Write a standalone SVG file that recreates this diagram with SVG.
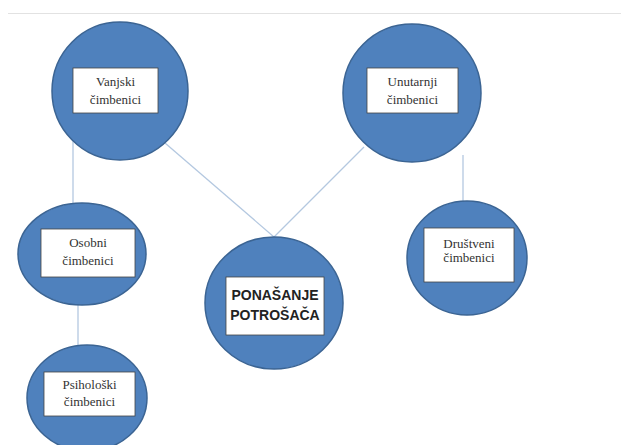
<svg xmlns="http://www.w3.org/2000/svg" width="621" height="445" viewBox="0 0 621 445">
<style>
.c{fill:#4f81bd;stroke:#3b6493;stroke-width:1.5}
.b{fill:#fff;stroke:#444;stroke-width:0.8}
.t{font-family:"Liberation Serif","Times New Roman",serif;font-size:13px;fill:#333;text-anchor:middle}
.tb{font-family:"Liberation Sans",Arial,sans-serif;font-size:14px;font-weight:bold;fill:#222;text-anchor:middle}
.l{stroke:#b4c8e0;stroke-width:1.3;fill:none}
</style>
<rect width="621" height="445" fill="#fff"/>
<line x1="8" y1="13.5" x2="621" y2="13.5" stroke="#e2e2e2" stroke-width="1"/>
<g id="connectors">
<line class="l" x1="73" y1="140" x2="73" y2="205"/>
<line class="l" x1="165" y1="143" x2="274" y2="237"/>
<line class="l" x1="364" y1="147" x2="274" y2="237"/>
<line class="l" x1="463" y1="155" x2="463" y2="203"/>
<line class="l" x1="78" y1="300" x2="78" y2="347"/>
</g>
<g id="vanjski">
<ellipse class="c" cx="120" cy="91" rx="68" ry="69"/>
<rect class="b" x="73" y="68" width="85" height="45"/>
<text class="t" x="115.5" y="86">Vanjski</text>
<text class="t" x="115.5" y="104">čimbenici</text>
</g>
<g id="unutarnji">
<ellipse class="c" cx="412" cy="93" rx="69" ry="69"/>
<rect class="b" x="367" y="68" width="91" height="45"/>
<text class="t" x="412.5" y="86">Unutarnji</text>
<text class="t" x="412.5" y="104">čimbenici</text>
</g>
<g id="osobni">
<ellipse class="c" cx="82" cy="254" rx="64" ry="51"/>
<rect class="b" x="41" y="229" width="94" height="48"/>
<text class="t" x="88" y="247">Osobni</text>
<text class="t" x="88" y="265">čimbenici</text>
</g>
<g id="ponasanje">
<ellipse class="c" cx="274" cy="303" rx="69" ry="66"/>
<rect class="b" x="226" y="277" width="98" height="58"/>
<text class="tb" x="275" y="300">PONAŠANJE</text>
<text class="tb" x="275" y="320">POTROŠAČA</text>
</g>
<g id="drustveni">
<ellipse class="c" cx="467" cy="258" rx="60" ry="57"/>
<rect class="b" x="424" y="228" width="90" height="54"/>
<text class="t" x="469" y="248">Društveni</text>
<text class="t" x="469" y="262">čimbenici</text>
</g>
<g id="psiholoski">
<ellipse class="c" cx="87" cy="398" rx="60" ry="53"/>
<rect class="b" x="44" y="372" width="91" height="44"/>
<text class="t" x="89.5" y="389">Psihološki</text>
<text class="t" x="89.5" y="406">čimbenici</text>
</g>
</svg>
